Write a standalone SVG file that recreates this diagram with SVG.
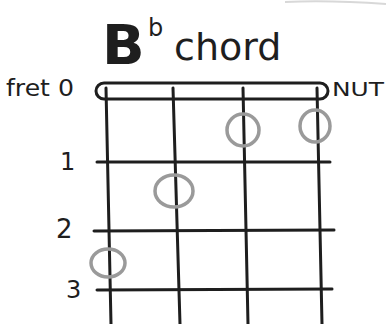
<svg xmlns="http://www.w3.org/2000/svg" width="386" height="324" viewBox="0 0 386 324">
<style>
.ln{stroke:#1e1e1e;stroke-width:3;stroke-linecap:round;fill:none}
.dot{fill:none;stroke:#9a9a9a;stroke-width:3.5}
.lbl{font-family:"DejaVu Sans",sans-serif;fill:#1e1e1e}
</style>
<rect width="386" height="324" fill="#fff"/>
<path d="M285 2 Q330 0 386 4" stroke="#d8d8d8" stroke-width="2" fill="none"/>
<g id="title">
<text x="102" y="64" class="lbl" font-size="56" font-weight="bold">B</text>
<text x="148" y="36" class="lbl" font-size="24">b</text>
<text x="174" y="60" class="lbl" font-size="38">chord</text>
</g>
<g id="labels">
<text x="6" y="96" class="lbl" font-size="23" textLength="68" lengthAdjust="spacingAndGlyphs">fret 0</text>
<text x="332" y="96" class="lbl" font-size="19" textLength="52" lengthAdjust="spacingAndGlyphs">NUT</text>
<text x="60" y="170" class="lbl" font-size="24">1</text>
<text x="56" y="238" class="lbl" font-size="26">2</text>
<text x="66" y="298" class="lbl" font-size="24">3</text>
</g>
<g id="nut">
<rect x="96" y="83" width="232" height="16" rx="8" class="ln" stroke-width="2.5"/>
</g>
<g id="grid">
<path class="ln" d="M106 88 L111 324"/>
<path class="ln" d="M173 88 L180 324"/>
<path class="ln" d="M243 88 L248 324"/>
<path class="ln" d="M317 88 L322 324"/>
<path class="ln" d="M97 162 L330 162"/>
<path class="ln" d="M94 231 L334 230"/>
<path class="ln" d="M97 290 L332 289"/>
</g>
<g id="dots">
<ellipse class="dot" cx="243" cy="130" rx="16" ry="16"/>
<ellipse class="dot" cx="315" cy="126" rx="15" ry="16"/>
<ellipse class="dot" cx="174" cy="191" rx="19" ry="16"/>
<ellipse class="dot" cx="108" cy="263" rx="17" ry="14"/>
</g>
</svg>
